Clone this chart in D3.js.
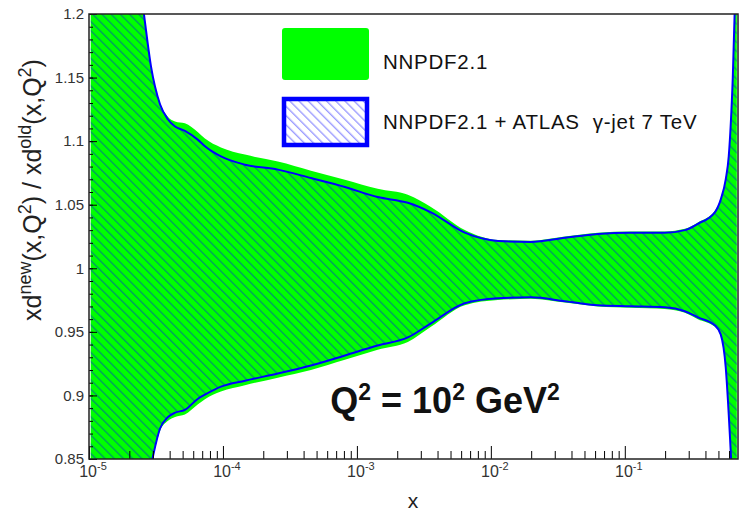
<!DOCTYPE html>
<html>
<head>
<meta charset="utf-8">
<script src="https://cdn.jsdelivr.net/npm/d3@7"></script>
<style>
  body { margin: 0; background: #fff; }
  text { font-family: "Liberation Sans", Arial, sans-serif; }
</style>
</head>
<body>
<div id="graph"></div>
<script>
// --------------------------------------
//  Data
// --------------------------------------

const xValues = [1.03e-5, 1.64e-5, 2.32e-5, 2.57e-5, 2.90e-5, 3.39e-5, 3.89e-5, 4.39e-5, 5.20e-5,
  6.51e-5, 7.34e-5, 9.66e-5, 1.46e-4, 2.57e-4, 4.54e-4, 8.13e-4, 1.43e-3, 2.40e-3, 3.57e-3,
  6.39e-3, 1.13e-2, 1.99e-2, 3.57e-2, 6.29e-2, 0.111, 0.199, 0.281, 0.351, 0.470, 0.520,
  0.567, 0.597, 0.640, 0.686];

// NNPDF2.1 + ATLAS gamma-jet (hatched band)
const newUpper = [1.40, 1.32, 1.235, 1.200, 1.159, 1.129, 1.117, 1.1115, 1.108,
  1.101, 1.096, 1.088, 1.0815, 1.0776, 1.071, 1.064, 1.056, 1.0515, 1.044,
  1.028, 1.0215, 1.0207, 1.024, 1.027, 1.028, 1.028, 1.030, 1.035, 1.044, 1.054,
  1.070, 1.088, 1.15, 1.26];
const newLower = [0.70, 0.74, 0.80, 0.82, 0.845, 0.874, 0.883, 0.8864, 0.8887,
  0.8974, 0.9006, 0.9069, 0.9116, 0.9172, 0.9235, 0.9314, 0.9393, 0.9456, 0.9567,
  0.9725, 0.9764, 0.9772, 0.9741, 0.9709, 0.9701, 0.9693, 0.9662, 0.9614, 0.9551, 0.948,
  0.922, 0.885, 0.82, 0.72];

// NNPDF2.1 (green band)
const oldUpper = [1.40, 1.32, 1.236, 1.201, 1.160, 1.130, 1.119, 1.1155, 1.114,
  1.107, 1.102, 1.095, 1.0894, 1.0839, 1.0768, 1.0697, 1.0625, 1.0578, 1.0483,
  1.0302, 1.0223, 1.0217, 1.025, 1.028, 1.029, 1.029, 1.031, 1.036, 1.045, 1.055,
  1.071, 1.089, 1.15, 1.26];
const oldLower = [0.70, 0.74, 0.80, 0.82, 0.844, 0.872, 0.880, 0.883, 0.885,
  0.893, 0.897, 0.903, 0.908, 0.914, 0.920, 0.928, 0.936, 0.942, 0.954,
  0.971, 0.975, 0.976, 0.973, 0.970, 0.969, 0.968, 0.965, 0.960, 0.954, 0.947,
  0.921, 0.884, 0.82, 0.72];

const yTicks = [0.85, 0.9, 0.95, 1, 1.05, 1.1, 1.15, 1.2];
const xTicks = [1e-5, 1e-4, 1e-3, 1e-2, 1e-1];
const legendLabels = ["NNPDF2.1", "NNPDF2.1 + ATLAS  \u03b3-jet 7 TeV"];

// --------------------------------------
//  Canvas and scales
// --------------------------------------

const W = 741, H = 511;
const plot = { left: 89, right: 738, top: 14, bottom: 459 };

const svg = d3.select("#graph").append("svg")
  .attr("width", W).attr("height", H);

const x = d3.scaleLog().domain([1e-5, 0.7]).range([plot.left, plot.right]);
const y = d3.scaleLinear().domain([0.85, 1.2]).range([plot.bottom, plot.top]);

const defs = svg.append("defs");
defs.append("clipPath").attr("id", "clip")
  .append("rect")
  .attr("x", plot.left).attr("y", plot.top)
  .attr("width", plot.right - plot.left).attr("height", plot.bottom - plot.top);

const pat = defs.append("pattern").attr("id", "hatch")
  .attr("patternUnits", "userSpaceOnUse")
  .attr("width", 6.5).attr("height", 6.5)
  .attr("patternTransform", "rotate(45)");
pat.append("line")
  .attr("x1", 0).attr("y1", 3).attr("x2", 6.5).attr("y2", 3)
  .attr("stroke", "#0000ff").attr("stroke-opacity", 0.45).attr("stroke-width", 1.2);

const rows = xValues.map((d, i) => ({
  x: d, nu: newUpper[i], nl: newLower[i], ou: oldUpper[i], ol: oldLower[i]
}));

// helper: text made of normal and superscript pieces (dy in px so nothing drifts)
function richText(sel, parts, size, supSize, rise) {
  parts.forEach(([s, sup], i) => {
    const prevSup = i > 0 && parts[i - 1][1];
    let dy = 0;
    if (sup && !prevSup) dy = -rise;
    if (!sup && prevSup) dy = rise;
    sel.append("tspan").attr("dy", dy)
      .attr("font-size", sup ? supSize : size)
      .style("white-space", "pre").text(s);
  });
}

// --------------------------------------
//  Bands
// --------------------------------------

const g = svg.append("g").attr("clip-path", "url(#clip)");

const areaOld = d3.area().curve(d3.curveMonotoneX)
  .x(d => x(d.x)).y0(d => y(d.ol)).y1(d => y(d.ou));
const areaNew = d3.area().curve(d3.curveMonotoneX)
  .x(d => x(d.x)).y0(d => y(d.nl)).y1(d => y(d.nu));

g.append("path").datum(rows).attr("d", areaOld).attr("fill", "#00ff00");
g.append("path").datum(rows).attr("d", areaNew).attr("fill", "url(#hatch)");

["nu", "nl"].forEach(k => {
  g.append("path").datum(rows)
    .attr("d", d3.line().curve(d3.curveMonotoneX).x(d => x(d.x)).y(d => y(d[k])))
    .attr("fill", "none").attr("stroke", "#0000ff").attr("stroke-width", 2);
});

// --------------------------------------
//  Axes
// --------------------------------------

const minorY = d3.range(85, 121).map(v => v / 100);
svg.append("g").attr("transform", `translate(${plot.left},0)`)
  .call(d3.axisLeft(y).tickValues(minorY).tickSizeInner(-4).tickSizeOuter(0).tickFormat(""))
  .call(a => a.select(".domain").remove());

const yAxis = svg.append("g").attr("transform", `translate(${plot.left},0)`)
  .call(d3.axisLeft(y).tickValues(yTicks).tickSizeInner(-8).tickSizeOuter(0)
    .tickPadding(5).tickFormat(d3.format("")));
yAxis.select(".domain").remove();
yAxis.selectAll("text").attr("font-size", 15).attr("fill", "#333");

const minorX = [];
xTicks.forEach(dec => d3.range(2, 10).forEach(m => { if (dec * m < 0.7) minorX.push(dec * m); }));
svg.append("g").attr("transform", `translate(0,${plot.bottom})`)
  .call(d3.axisBottom(x).tickValues(minorX).tickSizeInner(-8).tickSizeOuter(0).tickFormat(""))
  .call(a => a.select(".domain").remove());

const xAxis = svg.append("g").attr("transform", `translate(0,${plot.bottom})`)
  .call(d3.axisBottom(x).tickValues(xTicks).tickSizeInner(-13).tickSizeOuter(0));
xAxis.select(".domain").remove();
xAxis.selectAll("text")
  .attr("fill", "#333").attr("y", 18).attr("dy", null).attr("dx", "0.35em")
  .each(function(d) {
    const t = d3.select(this).text(null);
    richText(t, [["10", false], [String(Math.round(Math.log10(d))), true]], 16, 11, 7);
  });

// frame
svg.append("rect")
  .attr("x", plot.left).attr("y", plot.top)
  .attr("width", plot.right - plot.left).attr("height", plot.bottom - plot.top)
  .attr("fill", "none").attr("stroke", "#222").attr("stroke-width", 1.5);

// axis titles
svg.append("text").attr("x", 413).attr("y", 508)
  .attr("text-anchor", "middle").attr("font-size", 21).attr("fill", "#222").text("x");

const yt = svg.append("text")
  .attr("transform", "translate(41,190) rotate(-90)")
  .attr("text-anchor", "middle").attr("fill", "#222");
richText(yt, [["xd", false], ["new", true], ["(x,Q", false], ["2", true], [") / xd", false],
  ["old", true], ["(x,Q", false], ["2", true], [")", false]], 25, 18, 10);

// --------------------------------------
//  Legend
// --------------------------------------

const leg = svg.append("g");
leg.append("rect").attr("x", 282).attr("y", 28).attr("width", 87).attr("height", 52)
  .attr("rx", 3).attr("fill", "#00ff00");
leg.append("rect").attr("x", 284).attr("y", 99).attr("width", 83).attr("height", 46)
  .attr("fill", "#fff");
leg.append("rect").attr("x", 284).attr("y", 99).attr("width", 83).attr("height", 46)
  .attr("fill", "url(#hatch)").attr("stroke", "#0000ff").attr("stroke-width", 4.5);
leg.selectAll("text.lab").data(legendLabels).join("text").attr("class", "lab")
  .attr("x", 383).attr("y", (d, i) => 69 + i * 60)
  .attr("font-size", 20.5).attr("letter-spacing", 0.75).attr("fill", "#111")
  .style("white-space", "pre")
  .text(d => d);

// Q^2 label
const q = svg.append("text").attr("x", 445).attr("y", 413)
  .attr("text-anchor", "middle").attr("font-weight", "bold").attr("fill", "#111");
richText(q, [["Q", false], ["2", true], [" = 10", false], ["2", true], [" GeV", false], ["2", true]],
  36, 23, 13);
</script>
</body>
</html>
